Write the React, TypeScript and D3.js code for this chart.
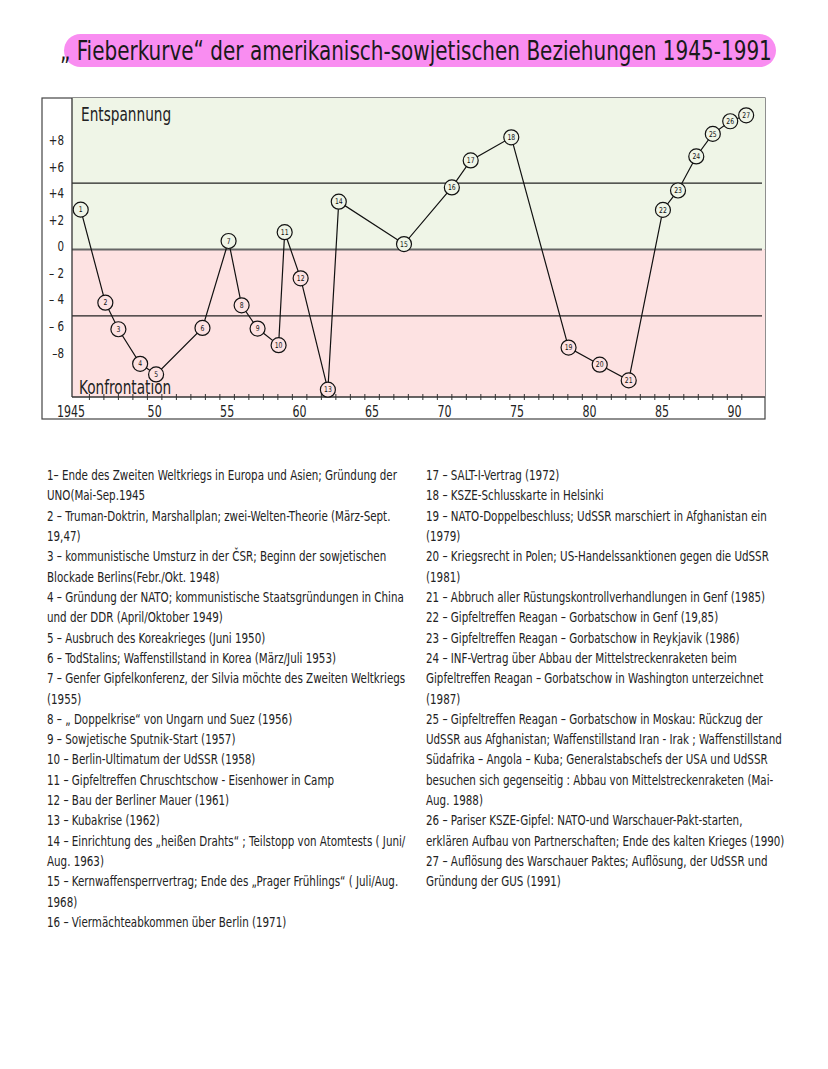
import React, { useLayoutEffect, useRef, useState } from "react";
import * as d3 from "d3";

const eventNumbers = [1,2,3,4,5,6,7,8,9,10,11,12,13,14,15,16,17,18,19,20,21,22,23,24,25,26,27];
const eventYears = [1944.9,1946.6,1947.5,1949.0,1950.1,1953.3,1955.1,1956.0,1957.1,1958.55,1958.97,1960.07,1961.95,1962.7,1967.2,1970.5,1971.8,1974.6,1978.55,1980.7,1982.7,1985.06,1986.1,1987.36,1988.5,1989.7,1990.8];
const eventValues = [3.0,-4.0,-6.0,-8.6,-9.4,-5.9,0.64,-4.2,-5.95,-7.2,1.3,-2.17,-10.55,3.6,0.41,4.67,6.7,8.44,-7.38,-8.67,-9.85,2.98,4.44,7.0,8.7,9.65,10.1];

const yTickValues = [8,6,4,2,0,-2,-4,-6,-8];
const yTickLabels = ["+8","+6","+4","+2","0","– 2","– 4","– 6","–8"];
const xLabelYears = [1945,1950,1955,1960,1965,1970,1975,1980,1985,1990];
const xLabelTexts = ["1945","50","55","60","65","70","75","80","85","90"];
const refLines = [5,0,-5];

const title = "„ Fieberkurve“ der amerikanisch-sowjetischen Beziehungen 1945-1991";

const legendLeft = [
  "1– Ende des Zweiten Weltkriegs in Europa und Asien; Gründung der",
  "UNO(Mai-Sep.1945",
  "2 – Truman-Doktrin, Marshallplan; zwei-Welten-Theorie (März-Sept.",
  "19,47)",
  "3 – kommunistische Umsturz in der ČSR; Beginn der sowjetischen",
  "Blockade Berlins(Febr./Okt. 1948)",
  "4 – Gründung der NATO; kommunistische Staatsgründungen in China",
  "und der DDR (April/Oktober 1949)",
  "5 – Ausbruch des Koreakrieges (Juni 1950)",
  "6 – TodStalins; Waffenstillstand in Korea (März/Juli 1953)",
  "7 – Genfer Gipfelkonferenz, der Silvia möchte des Zweiten Weltkriegs",
  "(1955)",
  "8 – „ Doppelkrise“ von Ungarn und Suez (1956)",
  "9 – Sowjetische Sputnik-Start (1957)",
  "10 – Berlin-Ultimatum der UdSSR (1958)",
  "11 – Gipfeltreffen Chruschtschow - Eisenhower in Camp",
  "12 – Bau der Berliner Mauer (1961)",
  "13 – Kubakrise (1962)",
  "14 – Einrichtung des „heißen Drahts“ ; Teilstopp von Atomtests ( Juni/",
  "Aug. 1963)",
  "15 – Kernwaffensperrvertrag; Ende des „Prager Frühlings“ ( Juli/Aug.",
  "1968)",
  "16 – Viermächteabkommen über Berlin (1971)",
];

const legendRight = [
  "17 –  SALT-I-Vertrag (1972)",
  "18 – KSZE-Schlusskarte in Helsinki",
  "19 – NATO-Doppelbeschluss; UdSSR marschiert in Afghanistan ein",
  "(1979)",
  "20 – Kriegsrecht in Polen; US-Handelssanktionen gegen die UdSSR",
  "(1981)",
  "21 – Abbruch aller Rüstungskontrollverhandlungen in Genf (1985)",
  "22 – Gipfeltreffen Reagan – Gorbatschow in Genf (19,85)",
  "23 – Gipfeltreffen Reagan – Gorbatschow in Reykjavik (1986)",
  "24 – INF-Vertrag über Abbau der Mittelstreckenraketen beim",
  "Gipfeltreffen Reagan – Gorbatschow in Washington unterzeichnet",
  "(1987)",
  "25 – Gipfeltreffen Reagan – Gorbatschow in Moskau: Rückzug der",
  "UdSSR aus Afghanistan; Waffenstillstand Iran - Irak ; Waffenstillstand",
  "Südafrika – Angola – Kuba; Generalstabschefs der USA und UdSSR",
  "besuchen sich gegenseitig : Abbau von Mittelstreckenraketen (Mai-",
  "Aug. 1988)",
  "26 – Pariser KSZE-Gipfel: NATO-und Warschauer-Pakt-starten,",
  "erklären Aufbau von Partnerschaften; Ende des kalten Krieges (1990)",
  "27 – Auflösung des Warschauer Paktes; Auflösung, der UdSSR und",
  "Gründung der GUS (1991)",
];

const FONT = "'DejaVu Sans Condensed', 'Liberation Sans Narrow', sans-serif";
const GREEN = "#eff5e7";
const PINK = "#fde2e2";

type TProps = { x: number; y: number; size: number; sx?: number; anchor?: string; baseline?: string; children: React.ReactNode; fill?: string };
function T({ x, y, size, sx = 0.82, anchor = "start", baseline, children, fill = "#222" }: TProps) {
  return (
    <text transform={`translate(${x},${y}) scale(${sx},1)`} fontSize={size} textAnchor={anchor}
      dominantBaseline={baseline} fill={fill}>{children}</text>
  );
}

export default function App() {
  const left = 72, right = 765, top = 98, bottom = 397;
  const x = d3.scaleLinear().domain([1944.3, 1992.1]).range([left, right]);
  const y = d3.scaleLinear().domain([-11.1, 11.4]).range([bottom, top]);
  const points = eventNumbers.map((n, i) => ({ n, year: eventYears[i], v: eventValues[i] }));
  const line = d3.line<{ year: number; v: number }>().x(d => x(d.year)).y(d => y(d.v));
  const tickYears = d3.range(1945, 1991);
  const lineH = 20.32;

  const titleRef = useRef<SVGTextElement>(null);
  const [titleScale, setTitleScale] = useState(0.8);
  useLayoutEffect(() => {
    if (titleRef.current) {
      const len = titleRef.current.getComputedTextLength();
      if (len > 0) setTitleScale(712 / len);
    }
  }, []);

  return (
    <svg width={828} height={1069} style={{ position: "absolute", left: 0, top: 0, background: "#fff" }} fontFamily={FONT}>
      <rect x={0} y={0} width={828} height={1069} fill="#fff" />
      {/* title */}
      <rect x={64} y={34} width={712} height={33} rx={16.5} fill="#f98df1" />
      <text ref={titleRef} transform={`translate(60,60) scale(${titleScale},1)`} fontSize={27} fill="#1a1a1a">{title}</text>

      {/* outer frame */}
      <rect x={42} y={98} width={723} height={321} fill="#fff" stroke="#444" strokeWidth={1.2} />
      {/* background zones */}
      <rect x={left} y={top} width={right - left} height={y(0) - top} fill={GREEN} />
      <rect x={left} y={y(0)} width={right - left} height={bottom - y(0)} fill={PINK} />

      {refLines.map(v => (
        <line key={v} x1={left} x2={right - 3} y1={y(v)} y2={y(v)}
          stroke={v === 0 ? "#666" : "#222"} strokeWidth={v === 0 ? 2 : 1.3} />
      ))}

      {/* axes lines */}
      <line x1={left} x2={left} y1={top} y2={bottom} stroke="#333" strokeWidth={1.3} />
      <line x1={left} x2={right} y1={bottom} y2={bottom} stroke="#333" strokeWidth={1.3} />
      {tickYears.map(t => (
        <line key={t} x1={x(t + 0.5)} x2={x(t + 0.5)} y1={bottom - 3} y2={bottom + 3} stroke="#333" strokeWidth={1} />
      ))}

      {yTickValues.map((v, i) => (
        <T key={v} x={64} y={y(v) - 2} size={14} anchor="end" baseline="middle">{yTickLabels[i]}</T>
      ))}
      {xLabelYears.map((yr, i) => (
        <T key={yr} x={i === 0 ? x(yr) + 3 : x(yr)} y={417} size={15}
          anchor={i === 0 ? "end" : "middle"}>{xLabelTexts[i]}</T>
      ))}

      <T x={81} y={121} size={19} sx={0.8}>Entspannung</T>
      <T x={79} y={394} size={19} sx={0.8}>Konfrontation</T>

      <path d={line(points) || ""} fill="none" stroke="#111" strokeWidth={1.2} />
      {points.map(p => (
        <g key={p.n} transform={`translate(${x(p.year)},${y(p.v)})`}>
          <circle r={7.5} fill={p.v >= 0 ? GREEN : PINK} stroke="#111" strokeWidth={1.2} />
          <text fontSize={8} textAnchor="middle" dominantBaseline="central" fill="#111"
            transform="scale(0.85,1)">{p.n}</text>
        </g>
      ))}

      {legendLeft.map((t, i) => (
        <T key={"l" + i} x={47} y={480 + i * lineH} size={13.5} sx={0.85}>{t}</T>
      ))}
      {legendRight.map((t, i) => (
        <T key={"r" + i} x={426} y={480 + i * lineH} size={13.5} sx={0.85}>{t}</T>
      ))}
    </svg>
  );
}
